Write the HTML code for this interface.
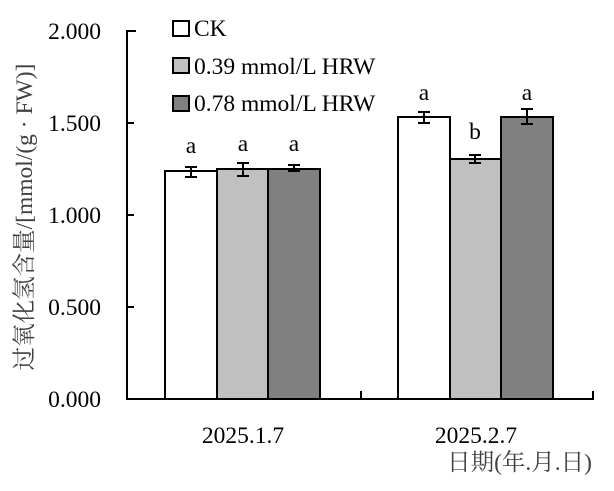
<!DOCTYPE html><html><head><style>body{margin:0;background:#fff}svg text{font-family:"Liberation Serif","Noto Serif CJK SC",serif;font-size:23.5px}</style></head><body>
<svg width="614" height="486" xmlns="http://www.w3.org/2000/svg">
<rect width="614" height="486" fill="#fff"/>
<g stroke="#000" stroke-width="2" fill="none">
<path d="M136,31H127V399H593V391M361,399V391M127,123H134M127,215H134M127,307H134"/>
</g>
<g fill="#000" text-anchor="end">
<text x="101" y="39">2.000</text><text x="101" y="131">1.500</text><text x="101" y="223">1.000</text><text x="101" y="315">0.500</text><text x="101" y="407">0.000</text>
</g>
<g stroke="#000" stroke-width="2">
<rect x="165" y="171" width="52" height="228" fill="#fff"/>
<rect x="217" y="169" width="51" height="230" fill="#c0c0c0"/>
<rect x="268" y="169" width="52" height="230" fill="#808080"/>
<rect x="398" y="117" width="52" height="282" fill="#fff"/>
<rect x="450" y="159" width="51" height="240" fill="#c0c0c0"/>
<rect x="501" y="117" width="52" height="282" fill="#808080"/>
<path d="M191,167V177M185,167H197M185,177H197M243,163V176M237,163H249M237,176H249M294,165V171M288,165H300M288,171H300M424,112V123M418,112H430M418,123H430M475,155V163M469,155H481M469,163H481M527,109V124M521,109H533M521,124H533" fill="none"/>
<rect x="173" y="21" width="16" height="15" fill="#fff"/>
<rect x="173" y="58" width="16" height="15" fill="#c0c0c0"/>
<rect x="173" y="96" width="16" height="15" fill="#808080"/>
</g>
<text x="194" y="36">CK</text><text x="194" y="74">0.39 mmol/L HRW</text><text x="194" y="111">0.78 mmol/L HRW</text>
<g text-anchor="middle">
<text x="191" y="153">a</text><text x="243" y="151">a</text><text x="294" y="151">a</text>
<text x="424" y="100">a</text><text x="475" y="139">b</text><text x="527" y="100">a</text>
<text x="243" y="443">2025.1.7</text><text x="476" y="443">2025.2.7</text>
</g>
<text x="592" y="470" text-anchor="end" fill="#404040">日期(年.月.日)</text>
<text transform="translate(32,217) rotate(-90)" text-anchor="middle" fill="#404040">过氧化氢含量/[mmol/(g · FW)]</text>
</svg></body></html>
